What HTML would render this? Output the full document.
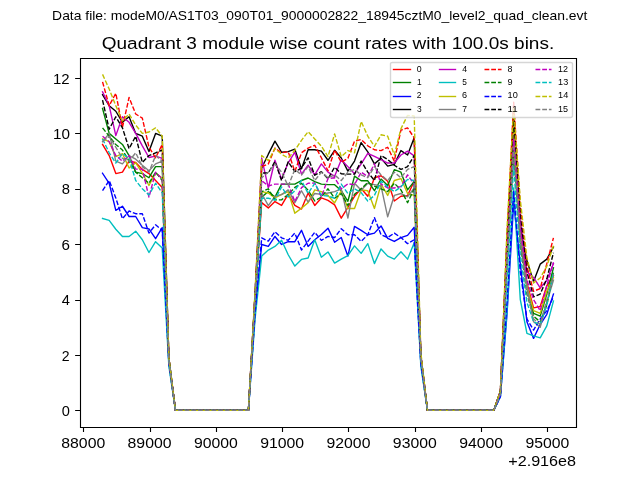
<!DOCTYPE html><html><head><meta charset="utf-8"><style>html,body{margin:0;padding:0;background:#fff;overflow:hidden}svg{display:block;will-change:transform}</style></head><body><svg width="640" height="480" viewBox="0 0 640 480"><rect width="640" height="480" fill="#fff"/><polyline points="102.55,144.48 109.18,155.56 115.81,173.57 122.44,172.18 129.07,161.1 135.7,162.49 142.33,169.41 148.96,173.57 155.59,180.49 162.22,187.42 168.86,360.54 175.49,410.4 182.12,410.4 188.75,410.4 195.38,410.4 202.01,410.4 208.64,410.4 215.27,410.4 221.9,410.4 228.53,410.4 235.17,410.4 241.8,410.4 248.43,410.4 255.06,299.6 261.69,202.65 268.32,207.91 274.95,201.54 281.58,205.42 288.21,194.06 294.84,205.42 301.48,209.02 308.11,192.96 314.74,205.42 321.37,197.94 328,200.43 334.63,204.87 341.26,218.16 347.89,207.36 354.52,196.28 361.16,188.52 367.79,196.28 374.42,177.72 381.05,175.78 387.68,181.32 394.31,200.99 400.94,196.28 407.57,195.45 414.2,181.32 420.83,357.77 427.47,410.4 434.1,410.4 440.73,410.4 447.36,410.4 453.99,410.4 460.62,410.4 467.25,410.4 473.88,410.4 480.51,410.4 487.14,410.4 493.78,410.4 500.41,393.78 507.04,249.74 513.67,105.7 520.3,222.04 526.93,282.98 533.56,307.91 540.19,306.53 546.82,285.75 553.45,275.5" fill="none" stroke="#ff0000" stroke-width="1.3889" stroke-linejoin="round" stroke-linecap="square"/><polyline points="102.55,108.47 109.18,133.4 115.81,138.94 122.44,144.48 129.07,155.56 135.7,172.18 142.33,173.57 148.96,177.72 155.59,166.64 162.22,166.64 168.86,360.54 175.49,410.4 182.12,410.4 188.75,410.4 195.38,410.4 202.01,410.4 208.64,410.4 215.27,410.4 221.9,410.4 228.53,410.4 235.17,410.4 241.8,410.4 248.43,410.4 255.06,299.6 261.69,197.11 268.32,191.57 274.95,197.11 281.58,184.09 288.21,184.09 294.84,184.09 301.48,180.49 308.11,178 314.74,181.6 321.37,184.09 328,184.65 334.63,184.65 341.26,190.74 347.89,201.27 354.52,176.06 361.16,180.77 367.79,180.77 374.42,190.74 381.05,179.11 387.68,185.48 394.31,169.69 400.94,172.18 407.57,189.91 414.2,181.32 420.83,357.77 427.47,410.4 434.1,410.4 440.73,410.4 447.36,410.4 453.99,410.4 460.62,410.4 467.25,410.4 473.88,410.4 480.51,410.4 487.14,410.4 493.78,410.4 500.41,393.78 507.04,258.05 513.67,144.48 520.3,238.66 526.93,288.52 533.56,313.45 540.19,316.22 546.82,294.06 553.45,267.75" fill="none" stroke="#008000" stroke-width="1.3889" stroke-linejoin="round" stroke-linecap="square"/><polyline points="102.55,173.29 109.18,183.26 115.81,210.41 122.44,206.25 129.07,216.5 135.7,216.5 142.33,227.58 148.96,228.97 155.59,238.66 162.22,227.58 168.86,363.31 175.49,410.4 182.12,410.4 188.75,410.4 195.38,410.4 202.01,410.4 208.64,410.4 215.27,410.4 221.9,410.4 228.53,410.4 235.17,410.4 241.8,410.4 248.43,410.4 255.06,313.45 261.69,244.48 268.32,246.42 274.95,236.44 281.58,244.48 288.21,241.71 294.84,241.71 301.48,230.35 308.11,246.42 314.74,239.77 321.37,234.51 328,228.13 334.63,242.26 341.26,237.55 347.89,256.11 354.52,226.47 361.16,230.35 367.79,234.78 374.42,233.12 381.05,225.92 387.68,238.38 394.31,241.43 400.94,237.55 407.57,235.34 414.2,227.3 420.83,363.31 427.47,410.4 434.1,410.4 440.73,410.4 447.36,410.4 453.99,410.4 460.62,410.4 467.25,410.4 473.88,410.4 480.51,410.4 487.14,410.4 493.78,410.4 500.41,396.55 507.04,313.45 513.67,202.93 520.3,263.59 526.93,321.76 533.56,338.38 540.19,324.53 546.82,314.28 553.45,294.06" fill="none" stroke="#0000ff" stroke-width="1.3889" stroke-linejoin="round" stroke-linecap="square"/><polyline points="102.55,94.62 109.18,105.7 115.81,111.24 122.44,122.32 129.07,116.78 135.7,133.4 142.33,136.17 148.96,151.41 155.59,133.4 162.22,136.17 168.86,357.77 175.49,410.4 182.12,410.4 188.75,410.4 195.38,410.4 202.01,410.4 208.64,410.4 215.27,410.4 221.9,410.4 228.53,410.4 235.17,410.4 241.8,410.4 248.43,410.4 255.06,294.06 261.69,168.03 268.32,154.18 274.95,141.16 281.58,152.24 288.21,151.68 294.84,149.19 301.48,168.86 308.11,149.74 314.74,149.74 321.37,151.13 328,160.27 334.63,150.3 341.26,158.05 347.89,171.07 354.52,161.1 361.16,142.54 367.79,151.96 374.42,163.87 381.05,158.33 387.68,166.09 394.31,164.42 400.94,150.57 407.57,155.01 414.2,137.83 420.83,355 427.47,410.4 434.1,410.4 440.73,410.4 447.36,410.4 453.99,410.4 460.62,410.4 467.25,410.4 473.88,410.4 480.51,410.4 487.14,410.4 493.78,410.4 500.41,391.01 507.04,238.66 513.67,122.32 520.3,230.35 526.93,260.82 533.56,281.6 540.19,264.14 546.82,259.16 553.45,246.97" fill="none" stroke="#000000" stroke-width="1.3889" stroke-linejoin="round" stroke-linecap="square"/><polyline points="102.55,91.85 109.18,105.7 115.81,135.62 122.44,116.78 129.07,122.32 135.7,133.4 142.33,145.87 148.96,157.5 155.59,156.11 162.22,158.33 168.86,360.54 175.49,410.4 182.12,410.4 188.75,410.4 195.38,410.4 202.01,410.4 208.64,410.4 215.27,410.4 221.9,410.4 228.53,410.4 235.17,410.4 241.8,410.4 248.43,410.4 255.06,296.83 261.69,158.05 268.32,187.97 274.95,160.27 281.58,179.11 288.21,162.76 294.84,152.24 301.48,174.12 308.11,165.26 314.74,174.95 321.37,163.87 328,172.18 334.63,176.34 341.26,159.72 347.89,166.64 354.52,173.84 361.16,163.87 367.79,153.34 374.42,156.39 381.05,159.72 387.68,163.04 394.31,163.04 400.94,155.01 407.57,151.13 414.2,155.84 420.83,355 427.47,410.4 434.1,410.4 440.73,410.4 447.36,410.4 453.99,410.4 460.62,410.4 467.25,410.4 473.88,410.4 480.51,410.4 487.14,410.4 493.78,410.4 500.41,393.78 507.04,246.97 513.67,133.4 520.3,219.27 526.93,271.9 533.56,277.44 540.19,287.97 546.82,280.21 553.45,263.59" fill="none" stroke="#bf00bf" stroke-width="1.3889" stroke-linejoin="round" stroke-linecap="square"/><polyline points="102.55,218.44 109.18,220.38 115.81,229.24 122.44,236.44 129.07,236.44 135.7,231.18 142.33,239.77 148.96,252.51 155.59,241.71 162.22,248.08 168.86,366.08 175.49,410.4 182.12,410.4 188.75,410.4 195.38,410.4 202.01,410.4 208.64,410.4 215.27,410.4 221.9,410.4 228.53,410.4 235.17,410.4 241.8,410.4 248.43,410.4 255.06,318.99 261.69,256.11 268.32,250.02 274.95,246.42 281.58,240.32 288.21,254.73 294.84,266.08 301.48,259.44 308.11,258.05 314.74,239.77 321.37,257.22 328,251.96 334.63,263.04 341.26,259.16 347.89,255.56 354.52,245.86 361.16,253.34 367.79,243.65 374.42,263.59 381.05,248.91 387.68,256.11 394.31,259.16 400.94,251.68 407.57,259.16 414.2,242.82 420.83,366.08 427.47,410.4 434.1,410.4 440.73,410.4 447.36,410.4 453.99,410.4 460.62,410.4 467.25,410.4 473.88,410.4 480.51,410.4 487.14,410.4 493.78,410.4 500.41,396.55 507.04,310.68 513.67,187.97 520.3,299.6 526.93,333.39 533.56,335.89 540.19,337.83 546.82,325.92 553.45,300.99" fill="none" stroke="#00bfbf" stroke-width="1.3889" stroke-linejoin="round" stroke-linecap="square"/><polyline points="102.55,138.94 109.18,141.71 115.81,156.67 122.44,153.62 129.07,168.03 135.7,162.76 142.33,173.01 148.96,185.48 155.59,173.01 162.22,178 168.86,360.54 175.49,410.4 182.12,410.4 188.75,410.4 195.38,410.4 202.01,410.4 208.64,410.4 215.27,410.4 221.9,410.4 228.53,410.4 235.17,410.4 241.8,410.4 248.43,410.4 255.06,299.6 261.69,191.57 268.32,192.96 274.95,197.94 281.58,194.34 288.21,191.57 294.84,213.18 301.48,208.19 308.11,202.65 314.74,189.91 321.37,191.57 328,195.45 334.63,202.93 341.26,190.74 347.89,208.47 354.52,208.47 361.16,189.91 367.79,190.74 374.42,208.47 381.05,184.09 387.68,195.45 394.31,180.49 400.94,178.55 407.57,193.51 414.2,195.45 420.83,357.77 427.47,410.4 434.1,410.4 440.73,410.4 447.36,410.4 453.99,410.4 460.62,410.4 467.25,410.4 473.88,410.4 480.51,410.4 487.14,410.4 493.78,410.4 500.41,393.78 507.04,258.05 513.67,119.55 520.3,233.12 526.93,285.75 533.56,310.68 540.19,313.45 546.82,291.29 553.45,277.44" fill="none" stroke="#bfbf00" stroke-width="1.3889" stroke-linejoin="round" stroke-linecap="square"/><polyline points="102.55,141.71 109.18,133.4 115.81,161.1 122.44,163.87 129.07,155.56 135.7,159.16 142.33,165.26 148.96,170.8 155.59,163.87 162.22,161.1 168.86,360.54 175.49,410.4 182.12,410.4 188.75,410.4 195.38,410.4 202.01,410.4 208.64,410.4 215.27,410.4 221.9,410.4 228.53,410.4 235.17,410.4 241.8,410.4 248.43,410.4 255.06,299.6 261.69,193.51 268.32,205.7 274.95,196.28 281.58,194.62 288.21,189.91 294.84,202.65 301.48,190.74 308.11,202.1 314.74,193.51 321.37,194.34 328,192.96 334.63,191.57 341.26,188.8 347.89,218.16 354.52,183.26 361.16,190.19 367.79,183.26 374.42,184.65 381.05,186.03 387.68,216.78 394.31,195.45 400.94,193.51 407.57,196.83 414.2,187.97 420.83,357.77 427.47,410.4 434.1,410.4 440.73,410.4 447.36,410.4 453.99,410.4 460.62,410.4 467.25,410.4 473.88,410.4 480.51,410.4 487.14,410.4 493.78,410.4 500.41,393.78 507.04,266.36 513.67,155.56 520.3,235.89 526.93,285.75 533.56,321.76 540.19,327.3 546.82,302.37 553.45,280.21" fill="none" stroke="#808080" stroke-width="1.3889" stroke-linejoin="round" stroke-linecap="square"/><polyline points="102.55,81.88 109.18,105.7 115.81,93.24 122.44,127.31 129.07,97.39 135.7,114.01 142.33,118.17 148.96,147.25 155.59,157.78 162.22,144.48 168.86,357.77 175.49,410.4 182.12,410.4 188.75,410.4 195.38,410.4 202.01,410.4 208.64,410.4 215.27,410.4 221.9,410.4 228.53,410.4 235.17,410.4 241.8,410.4 248.43,410.4 255.06,294.06 261.69,166.64 268.32,163.87 274.95,148.08 281.58,152.79 288.21,151.68 294.84,171.63 301.48,152.79 308.11,148.08 314.74,145.31 321.37,157.78 328,170.8 334.63,150.02 341.26,162.21 347.89,158.33 354.52,141.16 361.16,139.49 367.79,145.87 374.42,149.74 381.05,150.57 387.68,147.25 394.31,161.1 400.94,130.08 407.57,127.86 414.2,137.83 420.83,355 427.47,410.4 434.1,410.4 440.73,410.4 447.36,410.4 453.99,410.4 460.62,410.4 467.25,410.4 473.88,410.4 480.51,410.4 487.14,410.4 493.78,410.4 500.41,391.01 507.04,235.89 513.67,102.1 520.3,205.42 526.93,266.36 533.56,291.29 540.19,288.52 546.82,263.59 553.45,237.83" fill="none" stroke="#ff0000" stroke-width="1.3889" stroke-linejoin="round" stroke-linecap="butt" stroke-dasharray="4.8000 1.9000"/><polyline points="102.55,127.86 109.18,136.17 115.81,144.48 122.44,150.02 129.07,161.1 135.7,172.18 142.33,177.72 148.96,183.26 155.59,172.18 162.22,180.49 168.86,360.54 175.49,410.4 182.12,410.4 188.75,410.4 195.38,410.4 202.01,410.4 208.64,410.4 215.27,410.4 221.9,410.4 228.53,410.4 235.17,410.4 241.8,410.4 248.43,410.4 255.06,299.6 261.69,191.57 268.32,188.8 274.95,199.88 281.58,199.88 288.21,194.34 294.84,187.42 301.48,183.26 308.11,190.19 314.74,200.99 321.37,197.11 328,188.8 334.63,198.22 341.26,193.51 347.89,205.42 354.52,194.34 361.16,188.8 367.79,182.43 374.42,186.03 381.05,188.8 387.68,191.57 394.31,183.26 400.94,189.91 407.57,202.65 414.2,188.8 420.83,357.77 427.47,410.4 434.1,410.4 440.73,410.4 447.36,410.4 453.99,410.4 460.62,410.4 467.25,410.4 473.88,410.4 480.51,410.4 487.14,410.4 493.78,410.4 500.41,393.78 507.04,263.59 513.67,150.02 520.3,244.2 526.93,294.06 533.56,316.22 540.19,321.76 546.82,305.14 553.45,271.9" fill="none" stroke="#008000" stroke-width="1.3889" stroke-linejoin="round" stroke-linecap="butt" stroke-dasharray="4.8000 1.9000"/><polyline points="102.55,190.74 109.18,180.49 115.81,197.94 122.44,218.72 129.07,210.96 135.7,213.73 142.33,213.73 148.96,233.12 155.59,224.81 162.22,230.35 168.86,363.31 175.49,410.4 182.12,410.4 188.75,410.4 195.38,410.4 202.01,410.4 208.64,410.4 215.27,410.4 221.9,410.4 228.53,410.4 235.17,410.4 241.8,410.4 248.43,410.4 255.06,313.45 261.69,237.83 268.32,241.15 274.95,231.74 281.58,237.83 288.21,240.32 294.84,233.12 301.48,250.02 308.11,241.15 314.74,232.29 321.37,240.32 328,236.44 334.63,237.55 341.26,228.69 347.89,234.78 354.52,234.78 361.16,241.43 367.79,234.78 374.42,217.61 381.05,234.78 387.68,237.55 394.31,233.12 400.94,237.55 407.57,243.65 414.2,239.77 420.83,363.31 427.47,410.4 434.1,410.4 440.73,410.4 447.36,410.4 453.99,410.4 460.62,410.4 467.25,410.4 473.88,410.4 480.51,410.4 487.14,410.4 493.78,410.4 500.41,396.55 507.04,302.37 513.67,191.57 520.3,271.9 526.93,318.99 533.56,330.07 540.19,318.99 546.82,310.68 553.45,296.83" fill="none" stroke="#0000ff" stroke-width="1.3889" stroke-linejoin="round" stroke-linecap="butt" stroke-dasharray="4.8000 1.9000"/><polyline points="102.55,100.16 109.18,129.25 115.81,116.78 122.44,127.86 129.07,148.64 135.7,136.17 142.33,162.49 148.96,155.56 155.59,152.79 162.22,150.02 168.86,357.77 175.49,410.4 182.12,410.4 188.75,410.4 195.38,410.4 202.01,410.4 208.64,410.4 215.27,410.4 221.9,410.4 228.53,410.4 235.17,410.4 241.8,410.4 248.43,410.4 255.06,294.06 261.69,173.01 268.32,173.01 274.95,161.65 281.58,180.49 288.21,161.65 294.84,171.63 301.48,168.03 308.11,157.78 314.74,175.23 321.37,171.63 328,178.83 334.63,167.19 341.26,173.84 347.89,174.12 354.52,174.12 361.16,161.1 367.79,172.18 374.42,180.49 381.05,155.56 387.68,159.44 394.31,165.26 400.94,169.41 407.57,166.64 414.2,155.56 420.83,355 427.47,410.4 434.1,410.4 440.73,410.4 447.36,410.4 453.99,410.4 460.62,410.4 467.25,410.4 473.88,410.4 480.51,410.4 487.14,410.4 493.78,410.4 500.41,391.01 507.04,244.2 513.67,116.78 520.3,216.5 526.93,271.9 533.56,296.83 540.19,294.06 546.82,278.83 553.45,252.79" fill="none" stroke="#000000" stroke-width="1.3889" stroke-linejoin="round" stroke-linecap="butt" stroke-dasharray="4.8000 1.9000"/><polyline points="102.55,136.17 109.18,141.71 115.81,155.56 122.44,161.1 129.07,155.56 135.7,169.13 142.33,169.13 148.96,197.11 155.59,172.18 162.22,179.11 168.86,360.54 175.49,410.4 182.12,410.4 188.75,410.4 195.38,410.4 202.01,410.4 208.64,410.4 215.27,410.4 221.9,410.4 228.53,410.4 235.17,410.4 241.8,410.4 248.43,410.4 255.06,299.6 261.69,180.49 268.32,186.03 274.95,184.09 281.58,184.09 288.21,184.09 294.84,201.54 301.48,187.69 308.11,183.26 314.74,182.98 321.37,196.83 328,178.55 334.63,177.72 341.26,188.8 347.89,183.81 354.52,184.65 361.16,172.18 367.79,176.61 374.42,163.87 381.05,184.09 387.68,187.97 394.31,187.97 400.94,186.58 407.57,174.95 414.2,184.09 420.83,357.77 427.47,410.4 434.1,410.4 440.73,410.4 447.36,410.4 453.99,410.4 460.62,410.4 467.25,410.4 473.88,410.4 480.51,410.4 487.14,410.4 493.78,410.4 500.41,393.78 507.04,252.51 513.67,138.94 520.3,227.58 526.93,280.21 533.56,299.6 540.19,310.68 546.82,285.75 553.45,262.21" fill="none" stroke="#bf00bf" stroke-width="1.3889" stroke-linejoin="round" stroke-linecap="butt" stroke-dasharray="4.8000 1.9000"/><polyline points="102.55,138.94 109.18,152.79 115.81,163.04 122.44,153.62 129.07,158.33 135.7,180.49 142.33,188.8 148.96,194.89 155.59,183.26 162.22,192.96 168.86,360.54 175.49,410.4 182.12,410.4 188.75,410.4 195.38,410.4 202.01,410.4 208.64,410.4 215.27,410.4 221.9,410.4 228.53,410.4 235.17,410.4 241.8,410.4 248.43,410.4 255.06,299.6 261.69,198.22 268.32,198.22 274.95,200.16 281.58,186.86 288.21,197.11 294.84,190.74 301.48,180.49 308.11,193.51 314.74,183.26 321.37,195.45 328,196 334.63,198.22 341.26,184.09 347.89,193.51 354.52,188.8 361.16,192.68 367.79,200.99 374.42,195.45 381.05,181.32 387.68,186.86 394.31,191.57 400.94,186.86 407.57,179.38 414.2,180.49 420.83,357.77 427.47,410.4 434.1,410.4 440.73,410.4 447.36,410.4 453.99,410.4 460.62,410.4 467.25,410.4 473.88,410.4 480.51,410.4 487.14,410.4 493.78,410.4 500.41,393.78 507.04,277.44 513.67,166.64 520.3,255.28 526.93,302.37 533.56,321.76 540.19,324.53 546.82,305.14 553.45,272.45" fill="none" stroke="#00bfbf" stroke-width="1.3889" stroke-linejoin="round" stroke-linecap="butt" stroke-dasharray="4.8000 1.9000"/><polyline points="102.55,74.4 109.18,89.08 115.81,105.7 122.44,120.94 129.07,114.01 135.7,125.09 142.33,133.4 148.96,132.02 155.59,127.86 162.22,136.17 168.86,357.77 175.49,410.4 182.12,410.4 188.75,410.4 195.38,410.4 202.01,410.4 208.64,410.4 215.27,410.4 221.9,410.4 228.53,410.4 235.17,410.4 241.8,410.4 248.43,410.4 255.06,291.29 261.69,155.56 268.32,160.55 274.95,148.64 281.58,154.18 288.21,158.05 294.84,150.3 301.48,140.33 308.11,131.74 314.74,138.94 321.37,146.14 328,156.67 334.63,133.95 341.26,156.67 347.89,150.57 354.52,152.79 361.16,121.49 367.79,136.17 374.42,146.42 381.05,134.79 387.68,136.17 394.31,155.01 400.94,128.69 407.57,115.4 414.2,115.95 420.83,352.23 427.47,410.4 434.1,410.4 440.73,410.4 447.36,410.4 453.99,410.4 460.62,410.4 467.25,410.4 473.88,410.4 480.51,410.4 487.14,410.4 493.78,410.4 500.41,391.01 507.04,227.58 513.67,107.09 520.3,199.88 526.93,258.05 533.56,282.98 540.19,277.99 546.82,266.36 553.45,245.59" fill="none" stroke="#bfbf00" stroke-width="1.3889" stroke-linejoin="round" stroke-linecap="butt" stroke-dasharray="4.8000 1.9000"/><polyline points="102.55,141.71 109.18,136.17 115.81,147.25 122.44,158.33 129.07,161.1 135.7,152.79 142.33,166.64 148.96,172.18 155.59,155.56 162.22,161.1 168.86,360.54 175.49,410.4 182.12,410.4 188.75,410.4 195.38,410.4 202.01,410.4 208.64,410.4 215.27,410.4 221.9,410.4 228.53,410.4 235.17,410.4 241.8,410.4 248.43,410.4 255.06,296.83 261.69,177.72 268.32,172.18 274.95,163.87 281.58,172.18 288.21,186.03 294.84,169.41 301.48,174.95 308.11,166.64 314.74,180.49 321.37,172.18 328,177.72 334.63,174.95 341.26,180.49 347.89,172.18 354.52,169.41 361.16,174.95 367.79,177.72 374.42,166.64 381.05,174.95 387.68,180.49 394.31,172.18 400.94,177.72 407.57,169.41 414.2,166.64 420.83,357.77 427.47,410.4 434.1,410.4 440.73,410.4 447.36,410.4 453.99,410.4 460.62,410.4 467.25,410.4 473.88,410.4 480.51,410.4 487.14,410.4 493.78,410.4 500.41,393.78 507.04,260.82 513.67,147.25 520.3,241.43 526.93,291.29 533.56,318.99 540.19,324.53 546.82,299.6 553.45,274.67" fill="none" stroke="#808080" stroke-width="1.3889" stroke-linejoin="round" stroke-linecap="butt" stroke-dasharray="4.8000 1.9000"/><path d="M80.5 427.5V58.5M576.5 427.5V58.5M80.5 427.5H576.5M80.5 58.5H576.5" stroke="#000" stroke-width="1.1111" stroke-linecap="square" fill="none"/><path d="M83.5 427.2v4.86M150.5 427.2v4.86M216.5 427.2v4.86M282.5 427.2v4.86M348.5 427.2v4.86M415.5 427.2v4.86M481.5 427.2v4.86M547.5 427.2v4.86M80 410.5h-4.86M80 355.5h-4.86M80 300.5h-4.86M80 244.5h-4.86M80 189.5h-4.86M80 133.5h-4.86M80 78.5h-4.86" stroke="#000" stroke-width="1.1111" fill="none"/><text x="61.25" y="447.92" textLength="44" lengthAdjust="spacingAndGlyphs" style="font-size:13.889px;font-family:'Liberation Sans',sans-serif">88000</text><text x="127.56" y="447.92" textLength="44" lengthAdjust="spacingAndGlyphs" style="font-size:13.889px;font-family:'Liberation Sans',sans-serif">89000</text><text x="193.93" y="447.92" textLength="43.88" lengthAdjust="spacingAndGlyphs" style="font-size:13.889px;font-family:'Liberation Sans',sans-serif">90000</text><text x="260.18" y="447.92" textLength="44" lengthAdjust="spacingAndGlyphs" style="font-size:13.889px;font-family:'Liberation Sans',sans-serif">91000</text><text x="326.55" y="447.92" textLength="43.88" lengthAdjust="spacingAndGlyphs" style="font-size:13.889px;font-family:'Liberation Sans',sans-serif">92000</text><text x="392.86" y="447.92" textLength="43.88" lengthAdjust="spacingAndGlyphs" style="font-size:13.889px;font-family:'Liberation Sans',sans-serif">93000</text><text x="459.17" y="447.92" textLength="43.88" lengthAdjust="spacingAndGlyphs" style="font-size:13.889px;font-family:'Liberation Sans',sans-serif">94000</text><text x="525.48" y="447.92" textLength="43.88" lengthAdjust="spacingAndGlyphs" style="font-size:13.889px;font-family:'Liberation Sans',sans-serif">95000</text><text x="61.87" y="415.9" textLength="8.14" lengthAdjust="spacingAndGlyphs" style="font-size:14.762px;font-family:'Liberation Sans',sans-serif">0</text><text x="61.84" y="360.5" textLength="7.85" lengthAdjust="spacingAndGlyphs" style="font-size:14.762px;font-family:'Liberation Sans',sans-serif">2</text><text x="61.87" y="305.1" textLength="8.14" lengthAdjust="spacingAndGlyphs" style="font-size:14.719px;font-family:'Liberation Sans',sans-serif">4</text><text x="61.6" y="249.7" textLength="8.43" lengthAdjust="spacingAndGlyphs" style="font-size:14.762px;font-family:'Liberation Sans',sans-serif">6</text><text x="61.7" y="194.3" textLength="8.23" lengthAdjust="spacingAndGlyphs" style="font-size:14.762px;font-family:'Liberation Sans',sans-serif">8</text><text x="53.01" y="138.9" textLength="16.99" lengthAdjust="spacingAndGlyphs" style="font-size:14.762px;font-family:'Liberation Sans',sans-serif">10</text><text x="53.04" y="83.5" textLength="16.65" lengthAdjust="spacingAndGlyphs" style="font-size:14.762px;font-family:'Liberation Sans',sans-serif">12</text><text x="508.23" y="466.09" textLength="67.85" lengthAdjust="spacingAndGlyphs" style="font-size:14.762px;font-family:'Liberation Sans',sans-serif">+2.916e8</text><text x="101.75" y="49.27" textLength="452.5" lengthAdjust="spacingAndGlyphs" style="font-size:16.667px;font-family:'Liberation Sans',sans-serif">Quadrant 3 module wise count rates with 100.0s bins.</text><text x="52.14" y="19.6" textLength="535.11" lengthAdjust="spacingAndGlyphs" style="font-size:13.106px;font-family:'Liberation Sans',sans-serif">Data file: modeM0/AS1T03_090T01_9000002822_18945cztM0_level2_quad_clean.evt</text><path d="M392.5 117.5L570.5 117.5Q572.5 117.5 572.5 115.5L572.5 63.5Q572.5 62.5 570.5 62.5L392.5 62.5Q390.5 62.5 390.5 63.5L390.5 115.5Q390.5 117.5 392.5 117.5Z" fill="#fff" fill-opacity="0.8" stroke="#ccc" stroke-opacity="0.8" stroke-width="1.3889" stroke-linejoin="miter"/><polyline points="393.5,69.5 402.5,69.5 410.5,69.5" fill="none" stroke="#ff0000" stroke-width="1.3889" stroke-linecap="square"/><polyline points="393.5,82.5 402.5,82.5 410.5,82.5" fill="none" stroke="#008000" stroke-width="1.3889" stroke-linecap="square"/><polyline points="393.5,96.5 402.5,96.5 410.5,96.5" fill="none" stroke="#0000ff" stroke-width="1.3889" stroke-linecap="square"/><polyline points="393.5,109.5 402.5,109.5 410.5,109.5" fill="none" stroke="#000000" stroke-width="1.3889" stroke-linecap="square"/><polyline points="439.5,69.5 447.5,69.5 455.5,69.5" fill="none" stroke="#bf00bf" stroke-width="1.3889" stroke-linecap="square"/><polyline points="439.5,82.5 447.5,82.5 455.5,82.5" fill="none" stroke="#00bfbf" stroke-width="1.3889" stroke-linecap="square"/><polyline points="439.5,96.5 447.5,96.5 455.5,96.5" fill="none" stroke="#bfbf00" stroke-width="1.3889" stroke-linecap="square"/><polyline points="439.5,109.5 447.5,109.5 455.5,109.5" fill="none" stroke="#808080" stroke-width="1.3889" stroke-linecap="square"/><polyline points="484.5,69.5 492.5,69.5 501.5,69.5" fill="none" stroke="#ff0000" stroke-width="1.3889" stroke-linecap="butt" stroke-dasharray="4.8000 1.9000"/><polyline points="484.5,82.5 492.5,82.5 501.5,82.5" fill="none" stroke="#008000" stroke-width="1.3889" stroke-linecap="butt" stroke-dasharray="4.8000 1.9000"/><polyline points="484.5,96.5 492.5,96.5 501.5,96.5" fill="none" stroke="#0000ff" stroke-width="1.3889" stroke-linecap="butt" stroke-dasharray="4.8000 1.9000"/><polyline points="484.5,109.5 492.5,109.5 501.5,109.5" fill="none" stroke="#000000" stroke-width="1.3889" stroke-linecap="butt" stroke-dasharray="4.8000 1.9000"/><polyline points="535.5,69.5 543.5,69.5 551.5,69.5" fill="none" stroke="#bf00bf" stroke-width="1.3889" stroke-linecap="butt" stroke-dasharray="4.8000 1.9000"/><polyline points="535.5,82.5 543.5,82.5 551.5,82.5" fill="none" stroke="#00bfbf" stroke-width="1.3889" stroke-linecap="butt" stroke-dasharray="4.8000 1.9000"/><polyline points="535.5,96.5 543.5,96.5 551.5,96.5" fill="none" stroke="#bfbf00" stroke-width="1.3889" stroke-linecap="butt" stroke-dasharray="4.8000 1.9000"/><polyline points="535.5,109.5 543.5,109.5 551.5,109.5" fill="none" stroke="#808080" stroke-width="1.3889" stroke-linecap="butt" stroke-dasharray="4.8000 1.9000"/><text x="416.83" y="72.1" textLength="4.89" lengthAdjust="spacingAndGlyphs" style="font-size:8.857px;font-family:'Liberation Sans',sans-serif">0</text><text x="416.9" y="85.27" textLength="4.67" lengthAdjust="spacingAndGlyphs" style="font-size:8.831px;font-family:'Liberation Sans',sans-serif">1</text><text x="416.81" y="98.43" textLength="4.71" lengthAdjust="spacingAndGlyphs" style="font-size:8.857px;font-family:'Liberation Sans',sans-serif">2</text><text x="416.94" y="111.6" textLength="4.69" lengthAdjust="spacingAndGlyphs" style="font-size:8.857px;font-family:'Liberation Sans',sans-serif">3</text><text x="462.21" y="72.1" textLength="4.89" lengthAdjust="spacingAndGlyphs" style="font-size:8.831px;font-family:'Liberation Sans',sans-serif">4</text><text x="462.31" y="85.27" textLength="4.61" lengthAdjust="spacingAndGlyphs" style="font-size:8.831px;font-family:'Liberation Sans',sans-serif">5</text><text x="462.12" y="98.43" textLength="5.06" lengthAdjust="spacingAndGlyphs" style="font-size:8.857px;font-family:'Liberation Sans',sans-serif">6</text><text x="462.24" y="111.6" textLength="4.78" lengthAdjust="spacingAndGlyphs" style="font-size:8.831px;font-family:'Liberation Sans',sans-serif">7</text><text x="507.55" y="72.1" textLength="4.94" lengthAdjust="spacingAndGlyphs" style="font-size:8.857px;font-family:'Liberation Sans',sans-serif">8</text><text x="507.47" y="85.27" textLength="5.05" lengthAdjust="spacingAndGlyphs" style="font-size:8.857px;font-family:'Liberation Sans',sans-serif">9</text><text x="507.59" y="98.43" textLength="10.19" lengthAdjust="spacingAndGlyphs" style="font-size:8.857px;font-family:'Liberation Sans',sans-serif">10</text><text x="507.55" y="111.6" textLength="10.14" lengthAdjust="spacingAndGlyphs" style="font-size:8.831px;font-family:'Liberation Sans',sans-serif">11</text><text x="558.11" y="72.1" textLength="9.99" lengthAdjust="spacingAndGlyphs" style="font-size:8.857px;font-family:'Liberation Sans',sans-serif">12</text><text x="558.1" y="85.27" textLength="10.11" lengthAdjust="spacingAndGlyphs" style="font-size:8.857px;font-family:'Liberation Sans',sans-serif">13</text><text x="558.09" y="98.43" textLength="10.19" lengthAdjust="spacingAndGlyphs" style="font-size:8.831px;font-family:'Liberation Sans',sans-serif">14</text><text x="558.1" y="111.6" textLength="10.03" lengthAdjust="spacingAndGlyphs" style="font-size:8.831px;font-family:'Liberation Sans',sans-serif">15</text></svg></body></html>
